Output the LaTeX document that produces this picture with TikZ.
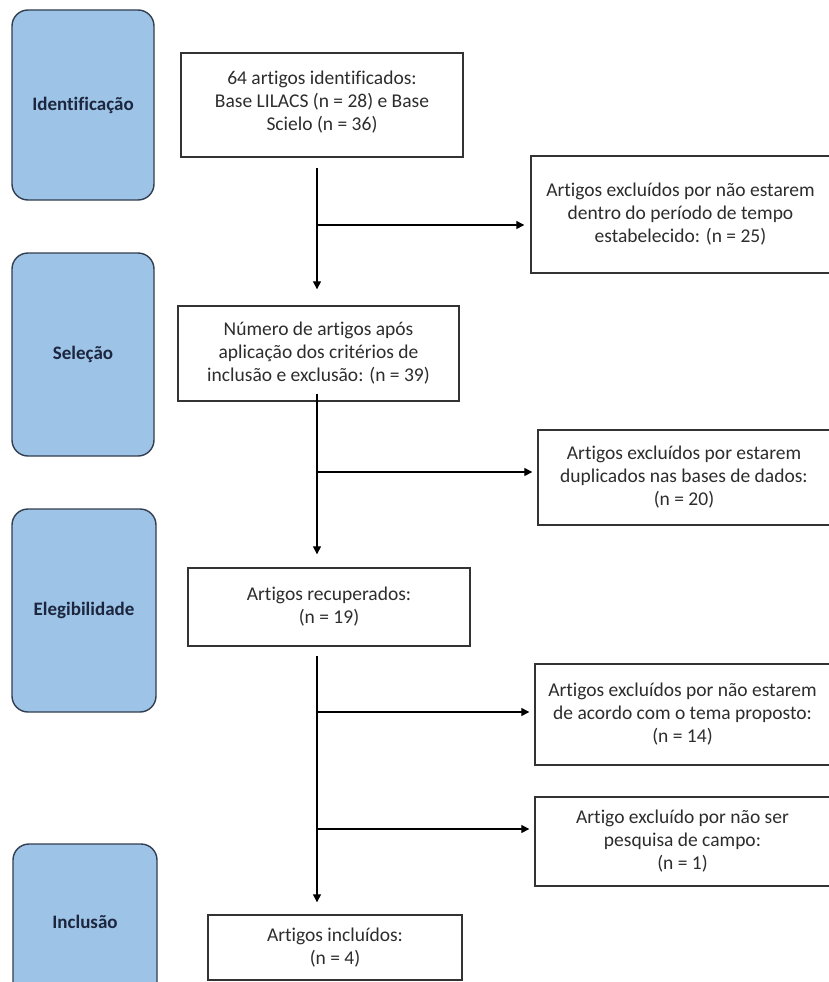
\documentclass[tikz,border=0pt]{standalone}
\usepackage{fontspec}
\setmainfont{Carlito}[Ligatures=NoCommon]
\usetikzlibrary{arrows.meta}

\definecolor{phaseblue}{RGB}{157,195,230}
\definecolor{phaseedge}{RGB}{50,62,80}
\definecolor{phasetext}{RGB}{28,38,62}
\definecolor{boxtext}{RGB}{45,45,45}

\begin{document}
\begin{tikzpicture}[x=1pt,y=-1pt]

  \clip (0,0) rectangle (829,982);
  \fill[white] (0,0) rectangle (829,982);

  \node[anchor=center,inner sep=0] (X) at (0,0) {};

  % node styles
  \tikzstyle{Phase}=[
  shape=rectangle,rounded corners=16pt,
  draw=phaseedge,line width=1.4pt,
  fill=phaseblue,text=phasetext,
  font=\bfseries\fontsize{19}{22}\selectfont,
  inner sep=0pt,minimum width=142pt]

  \tikzstyle{Box}=[
  shape=rectangle,draw=black!80,line width=1.4pt,
  fill=white,text=boxtext,align=center,
  font=\fontsize{19.5}{23}\selectfont,
  inner sep=0pt]

  \tikzstyle{Flow}=[line width=1.3pt,-{Triangle[length=8pt,width=8pt]}]

  % phases
  \draw (X) node[Phase,minimum height=190pt] (P1) at +(83,105)   {Identificação};
  \draw (X) node[Phase,minimum height=203pt] (P2) at +(83,354.5) {Seleção};
  \draw (X) node[Phase,minimum height=203pt,minimum width=144pt] (P3) at +(84,610.5) {Elegibilidade};
  \draw (X) node[Phase,minimum height=156pt,minimum width=144pt] (P4) at +(85,922)   {Inclusão};

  % main column
  \draw (X) node[Box,minimum width=282pt,minimum height=104pt] (B1) at +(322,105)
    {64 artigos identificados:\\ Base LILACS (n = 28) e Base\\ Scielo (n = 36)\\[-14pt]};
  \draw (X) node[Box,minimum width=281pt,minimum height=95pt] (B3) at +(318.5,353.5)
    {Número de artigos após\\ aplicação dos critérios de\\ inclusão e exclusão: (n = 39)};
  \draw (X) node[Box,minimum width=282pt,minimum height=78pt] (B5) at +(329,607)
    {Artigos recuperados:\\ (n = 19)};
  \draw (X) node[Box,minimum width=254pt,minimum height=65pt] (B8) at +(335,947.5)
    {Artigos incluídos:\\ (n = 4)};

  % exclusions
  \draw (X) node[Box,minimum width=299pt,minimum height=117pt] (B2) at +(680.5,214.5)
    {Artigos excluídos por não estarem\\ dentro do período de tempo\\ estabelecido: (n = 25)};
  \draw (X) node[Box,minimum width=292pt,minimum height=95pt] (B4) at +(684,477.5)
    {Artigos excluídos por estarem\\ duplicados nas bases de dados:\\ (n = 20)};
  \draw (X) node[Box,minimum width=295pt,minimum height=101pt] (B6) at +(682.5,714.5)
    {Artigos excluídos por não estarem\\ de acordo com o tema proposto:\\ (n = 14)};
  \draw (X) node[Box,minimum width=295pt,minimum height=89pt] (B7) at +(682.5,841.5)
    {Artigo excluído por não ser\\ pesquisa de campo:\\ (n = 1)};

  % connectors
  \coordinate (S) at (317,0);
  \coordinate (J1) at (317,225);
  \coordinate (J2) at (317,472);
  \coordinate (J3) at (317,712);
  \coordinate (J4) at (317,829);

  \draw[Flow,shorten <=10pt,shorten >=16pt] (B1.south -| S) -- (B3.north -| S);
  \draw[Flow,shorten >=6pt] (J1) -- (J1 -| B2.west);

  \draw[Flow,shorten <=-8pt,shorten >=13pt] (B3.south -| S) -- (B5.north -| S);
  \draw[Flow,shorten >=5pt] (J2) -- (J2 -| B4.west);

  \draw[Flow,shorten <=9pt,shorten >=12pt] (B5.south -| S) -- (B8.north -| S);
  \draw[Flow,shorten >=5pt] (J3) -- (J3 -| B6.west);
  \draw[Flow,shorten >=5pt] (J4) -- (J4 -| B7.west);

\end{tikzpicture}
\end{document}
